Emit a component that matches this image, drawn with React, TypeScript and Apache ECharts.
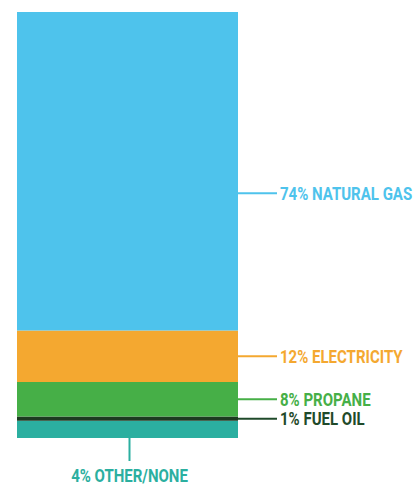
import React, { useEffect, useRef } from "react";
import * as echarts from "echarts";

const categories = ["Home heating fuel"];
const segmentLabels = ["4% OTHER/NONE", "1% FUEL OIL", "8% PROPANE", "12% ELECTRICITY", "74% NATURAL GAS"];
const segmentValues = [4, 1, 8, 12, 74];

const barColors = ["#2BAFA0", "#1C3A20", "#46AF47", "#F4A830", "#4EC3EC"];
const textColors = ["#2BAFA0", "#1F4A2A", "#46AF47", "#F4A830", "#4EC3EC"];
const labelShift = [0, 0, 0, 0, 22];

export default function App() {
  const ref = useRef<HTMLDivElement>(null);
  useEffect(() => {
    if (!ref.current) return;
    const chart = echarts.init(ref.current, undefined, { renderer: "svg" });
    const total = segmentValues.reduce((a, b) => a + b, 0);
    const ranges: number[][] = [];
    let acc = 0;
    segmentValues.forEach((v) => {
      ranges.push([0, acc, acc + v]);
      acc += v;
    });
    const barSeries = segmentValues.map((v, i) => ({
      type: "bar",
      name: segmentLabels[i],
      stack: "total",
      barWidth: "100%",
      data: [v],
      itemStyle: { color: barColors[i] },
      silent: true,
    }));
    const font = 'bold 19px Roboto, "DejaVu Sans", sans-serif';
    const sx = 0.79;
    const labelSeries = {
      type: "custom",
      coordinateSystem: "cartesian2d",
      encode: { x: 0, y: [1, 2] },
      data: ranges,
      silent: true,
      z: 10,
      renderItem: (params: any, api: any) => {
        const i = params.dataIndex;
        const top = api.coord([0, api.value(2)]);
        const bottom = api.coord([0, api.value(1)]);
        const half = api.size([1, 0])[0] / 2;
        const xc = top[0];
        const right = xc + half;
        if (i === 0) {
          const yb = bottom[1];
          return {
            type: "group",
            children: [
              {
                type: "line",
                shape: { x1: xc + 2, y1: yb, x2: xc + 2, y2: yb + 23 },
                style: { stroke: textColors[i], lineWidth: 2 },
              },
              {
                type: "text",
                x: xc + 2,
                y: yb + 37,
                scaleX: sx,
                style: {
                  text: segmentLabels[i],
                  fill: textColors[i],
                  font,
                  align: "center",
                  verticalAlign: "middle",
                },
              },
            ],
          };
        }
        const y = (top[1] + bottom[1]) / 2 + labelShift[i];
        return {
          type: "group",
          children: [
            {
              type: "line",
              shape: { x1: right, y1: y, x2: right + 39, y2: y },
              style: { stroke: textColors[i], lineWidth: 2 },
            },
            {
              type: "text",
              x: right + 42,
              y: y,
              scaleX: sx,
              style: {
                text: segmentLabels[i],
                fill: textColors[i],
                font,
                align: "left",
                verticalAlign: "middle",
              },
            },
          ],
        };
      },
    };
    chart.setOption({
      animation: false,
      grid: { left: 17, right: 177, top: 12, bottom: 47 },
      xAxis: { type: "category", data: categories, show: false },
      yAxis: { type: "value", min: 0, max: total, show: false },
      series: [...barSeries, labelSeries],
    });
    return () => chart.dispose();
  }, []);
  return (
    <div
      ref={ref}
      style={{ position: "fixed", left: 0, top: 0, width: 415, height: 485, background: "#fff" }}
    />
  );
}
